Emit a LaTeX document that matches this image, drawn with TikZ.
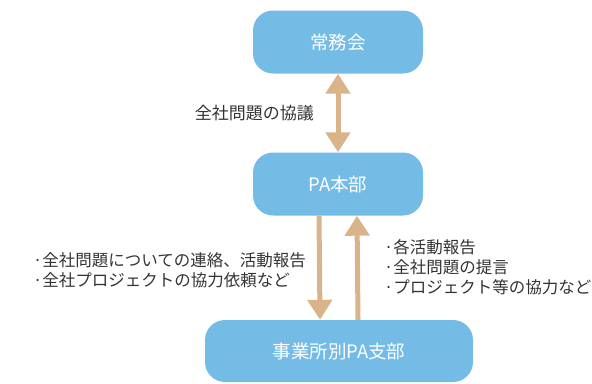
\documentclass[tikz,border=0pt]{standalone}
\usepackage{fontspec}
\setmainfont{Noto Sans CJK JP}
\usetikzlibrary{positioning, arrows.meta}
\definecolor{boxblue}{HTML}{74BCE6}
\definecolor{arrowtan}{HTML}{D9B48A}
\begin{document}
\begin{tikzpicture}[x=1bp, y=-1bp]
    \useasboundingbox (0, 0) rectangle (592, 383);
    \tikzset{
      unit/.style={rectangle, rounded corners=20bp, fill=boxblue, text=white, font=\fontsize{18.5bp}{22bp}\selectfont, inner sep=0pt},
      flow/.style={draw=arrowtan, line width=5bp, -{Triangle[width=24bp, length=20bp]}},
      remark/.style={align=left, font=\fontsize{16.5bp}{20bp}\selectfont, text=black!80, inner sep=0pt}
    }
    \node[unit, minimum width=170bp, minimum height=63bp] (joumu) at (338, 42) {常務会};
    \node[unit, minimum width=170bp, minimum height=63bp] (honbu) at (338, 184) {PA本部};
    \node[unit, minimum width=268bp, minimum height=62bp] (shibu) at (339, 351) {事業所別PA支部};

    \path (joumu.south) edge[flow, {Triangle[width=24bp, length=20bp]}-{Triangle[width=24bp, length=20bp]}] (honbu.north);
    \coordinate (downtop) at ([xshift=-19bp]honbu.south);
    \coordinate (downend) at ([xshift=-19bp]shibu.north);
    \coordinate (uptop) at ([xshift=19bp]honbu.south);
    \coordinate (upend) at ([xshift=19bp]shibu.north);
    \path (downtop) edge[flow] (downend);
    \path (upend) edge[flow] (uptop);

    \node[remark, anchor=east, font=\fontsize{17bp}{20bp}\selectfont] (kyougi) at (314, 113) {全社問題の協議};
    \node[remark, anchor=east] (renraku) at (306, 270) {·全社問題についての連絡、活動報告\\·全社プロジェクトの協力依頼など};
    \node[remark, anchor=west] (teigen) at (384, 267) {·各活動報告\\·全社問題の提言\\·プロジェクト等の協力など};
\end{tikzpicture}
\end{document}
